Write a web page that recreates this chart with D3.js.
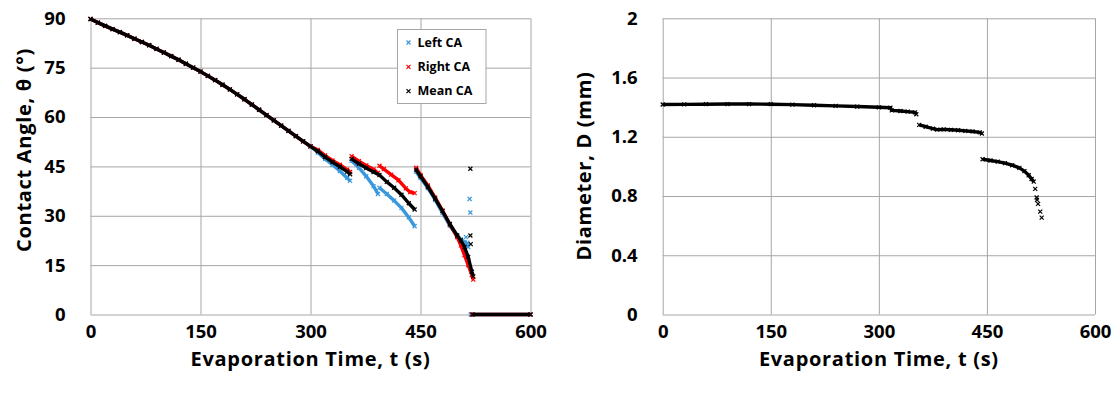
<!DOCTYPE html>
<html>
<head>
<meta charset="utf-8">
<script src="https://cdn.jsdelivr.net/npm/d3@7"></script>
<style>
  body { margin: 0; background: #fff; }
  text { font-family: 'Open Sans', sans-serif; font-weight: 700; fill: #000; }
  .tick text { font-size: 18.5px; }
  .tick line { stroke: #a6a6a6; }
  .axis-label { font-size: 20px; letter-spacing: 0.7px; }
  .legend text { font-size: 12.5px; }
</style>
</head>
<body>
<svg width="1120" height="400"></svg>
<script>
const xTicks = [0, 150, 300, 450, 600]
const angleTicks = [0, 15, 30, 45, 60, 75, 90]
const diaTicks = [0, 0.4, 0.8, 1.2, 1.6, 2]

// common part of the contact angle curve (all three overlap here)
const startCurve = [
  [0, 89.8], [10, 88.7], [20, 87.7], [30, 86.7], [40, 85.8], [50, 84.8],
  [60, 83.8], [70, 82.8], [80, 81.8], [90, 80.7], [100, 79.6], [110, 78.5],
  [120, 77.4], [130, 76.2], [140, 75.0], [150, 73.8], [160, 72.5], [170, 71.2],
  [180, 69.8], [190, 68.4], [200, 66.9], [210, 65.4], [220, 63.8], [230, 62.2],
  [240, 60.6], [250, 59.0], [260, 57.4], [270, 55.8], [280, 54.2], [290, 52.6],
  [300, 51.1]
]

const leftCA = [
  [...startCurve, [310, 49.2], [320, 47.2], [330, 45.5], [340, 43.6], [350, 41.5], [354, 40.6]],
  [[356, 46.7], [366, 44.6], [376, 42.0], [386, 39.0], [392, 36.6]],
  [[394, 38.5], [404, 36.6], [414, 34.6], [424, 32.4], [434, 29.5], [442, 26.8]],
  [[444, 43.4], [450, 41.5], [460, 38.4], [470, 34.8], [480, 30.9], [490, 27.0],
   [500, 24.0], [505, 22.8], [510, 22.0], [515, 20.5]],
  [[518.5, 0], [600, 0]]
]
const leftCAScatter = [[517, 35.1], [518, 31.0], [512, 23.5], [514, 21.8]]

const rightCA = [
  [...startCurve, [310, 50.0], [320, 48.3], [330, 46.8], [340, 45.5], [350, 44.0], [354, 43.3]],
  [[356, 48.1], [366, 46.6], [376, 45.3], [386, 44.1], [392, 43.0]],
  [[394, 45.2], [400, 44.2], [410, 42.5], [420, 40.8], [430, 38.3], [436, 37.2], [442, 36.9]],
  [[444, 44.6], [450, 42.4], [460, 39.2], [470, 35.5], [480, 31.6], [490, 27.4],
   [500, 23.5], [505, 21.0], [510, 18.0], [515, 15.0], [520, 12.0], [522, 10.6]],
  [[520, 0], [600, 0]]
]
const rightCAScatter = []

const meanCA = [
  [...startCurve, [310, 49.6], [320, 47.8], [330, 46.3], [340, 44.9], [350, 43.4], [354, 42.6]],
  [[356, 47.3], [366, 45.8], [376, 44.5], [386, 43.3], [394, 42.4], [404, 40.3],
   [414, 38.5], [424, 36.4], [434, 33.8], [442, 31.9]],
  [[444, 44.0], [450, 42.0], [460, 38.8], [470, 35.2], [480, 31.4], [490, 27.5],
   [500, 24.0], [505, 22.5], [510, 20.5], [515, 17.5], [520, 13.0], [522, 11.6]],
  [[521, 0], [600, 0]]
]
const meanCAScatter = [[518, 44.3], [518, 24.0], [518.5, 21.4]]

const diameter = [
  [[0, 1.418], [30, 1.419], [60, 1.420], [90, 1.421], [120, 1.421], [150, 1.420],
   [180, 1.417], [210, 1.413], [240, 1.409], [270, 1.404], [300, 1.399], [316, 1.396],
   [318, 1.378], [330, 1.374], [340, 1.370], [350, 1.365], [352, 1.352]],
  [[356, 1.280], [365, 1.268], [375, 1.255], [381, 1.248], [390, 1.250], [400, 1.247],
   [410, 1.244], [420, 1.240], [430, 1.236], [440, 1.230], [443, 1.222]],
  [[444, 1.048], [455, 1.040], [465, 1.032], [475, 1.022], [485, 1.008], [495, 0.990],
   [502, 0.968], [508, 0.940], [512, 0.915], [515, 0.897]]
]
const diameterScatter = [[517, 0.848], [519, 0.790], [519.5, 0.774], [521, 0.747], [524, 0.695], [526, 0.654]]

const seriesLeft = [
  { name: 'Left CA', color: '#3a98dc', segs: leftCA, scatter: leftCAScatter },
  { name: 'Right CA', color: '#ff0000', segs: rightCA, scatter: rightCAScatter },
  { name: 'Mean CA', color: '#000000', segs: meanCA, scatter: meanCAScatter }
]

const svg = d3.select('svg')
const plotTop = 18.3
const plotBottom = 314.5
const cross = 'M-2,-2L2,2M-2,2L2,-2'

const drawPanel = ({ left, right, yDomain, yTicks, yFormat, yLabel, yLabelX, yLabelY, series }) => {
  const xScale = d3.scaleLinear().domain([0, 600]).range([left, right])
  const yScale = d3.scaleLinear().domain(yDomain).range([plotBottom, plotTop])
  const w = right - left
  const h = plotBottom - plotTop

  const yAxisG = svg.append('g')
    .attr('transform', `translate(${left},0)`)
    .call(d3.axisLeft(yScale).tickValues(yTicks).tickFormat(yFormat).tickSize(-w).tickPadding(25))
  yAxisG.select('.domain').remove()

  const xAxisG = svg.append('g')
    .attr('transform', `translate(0,${plotBottom})`)
    .call(d3.axisBottom(xScale).tickValues(xTicks).tickSize(-h).tickPadding(10.5))
  xAxisG.select('.domain').remove()

  svg.append('text')
    .attr('class', 'axis-label')
    .attr('x', (left + right) / 2)
    .attr('y', 366)
    .attr('text-anchor', 'middle')
    .text('Evaporation Time, t (s)')

  svg.append('text')
    .attr('class', 'axis-label')
    .attr('transform', `translate(${yLabelX},${yLabelY}) rotate(-90)`)
    .attr('text-anchor', 'middle')
    .attr('dy', '0.35em')
    .text(yLabel)

  const line = d3.line()
    .x(d => xScale(d[0]))
    .y(d => yScale(d[1]))

  series.forEach(s => {
    const g = svg.append('g')
    s.segs.forEach(seg => {
      g.append('path')
        .attr('d', line(seg))
        .attr('fill', 'none')
        .attr('stroke', s.color)
        .attr('stroke-width', 3.4)
        .attr('stroke-linejoin', 'round')
      g.selectAll(null).data(seg).enter().append('path')
        .attr('d', cross)
        .attr('transform', d => `translate(${xScale(d[0])},${yScale(d[1])})`)
        .attr('stroke', s.color)
        .attr('stroke-width', 1.2)
    })
    g.selectAll(null).data(s.scatter).enter().append('path')
      .attr('d', cross)
      .attr('transform', d => `translate(${xScale(d[0])},${yScale(d[1])})`)
      .attr('stroke', s.color)
      .attr('stroke-width', 1.2)
  })
  return { xScale, yScale }
}

drawPanel({
  left: 90.5, right: 530.5,
  yDomain: [0, 90], yTicks: angleTicks, yFormat: d3.format('d'),
  yLabel: 'Contact Angle, θ (°)', yLabelX: 24, yLabelY: 150,
  series: seriesLeft
})

drawPanel({
  left: 662.7, right: 1095,
  yDomain: [0, 2], yTicks: diaTicks, yFormat: d => d === 0 || d === 2 ? String(d) : d3.format('.1f')(d),
  yLabel: 'Diameter, D (mm)', yLabelX: 584, yLabelY: 166,
  series: [{ name: 'Diameter', color: '#000', segs: diameter, scatter: diameterScatter }]
})

// legend
const legend = svg.append('g').attr('class', 'legend')
legend.append('rect')
  .attr('x', 397.5).attr('y', 29.5)
  .attr('width', 88.5).attr('height', 74)
  .attr('fill', '#fff').attr('stroke', '#a6a6a6')
seriesLeft.forEach((s, i) => {
  const y = 42.5 + i * 24.3
  legend.append('path')
    .attr('d', cross)
    .attr('transform', `translate(408.5,${y})`)
    .attr('stroke', s.color)
    .attr('stroke-width', 1.2)
  legend.append('text')
    .attr('x', 417.5).attr('y', y)
    .attr('dy', '0.35em')
    .text(s.name)
})
</script>
</body>
</html>
